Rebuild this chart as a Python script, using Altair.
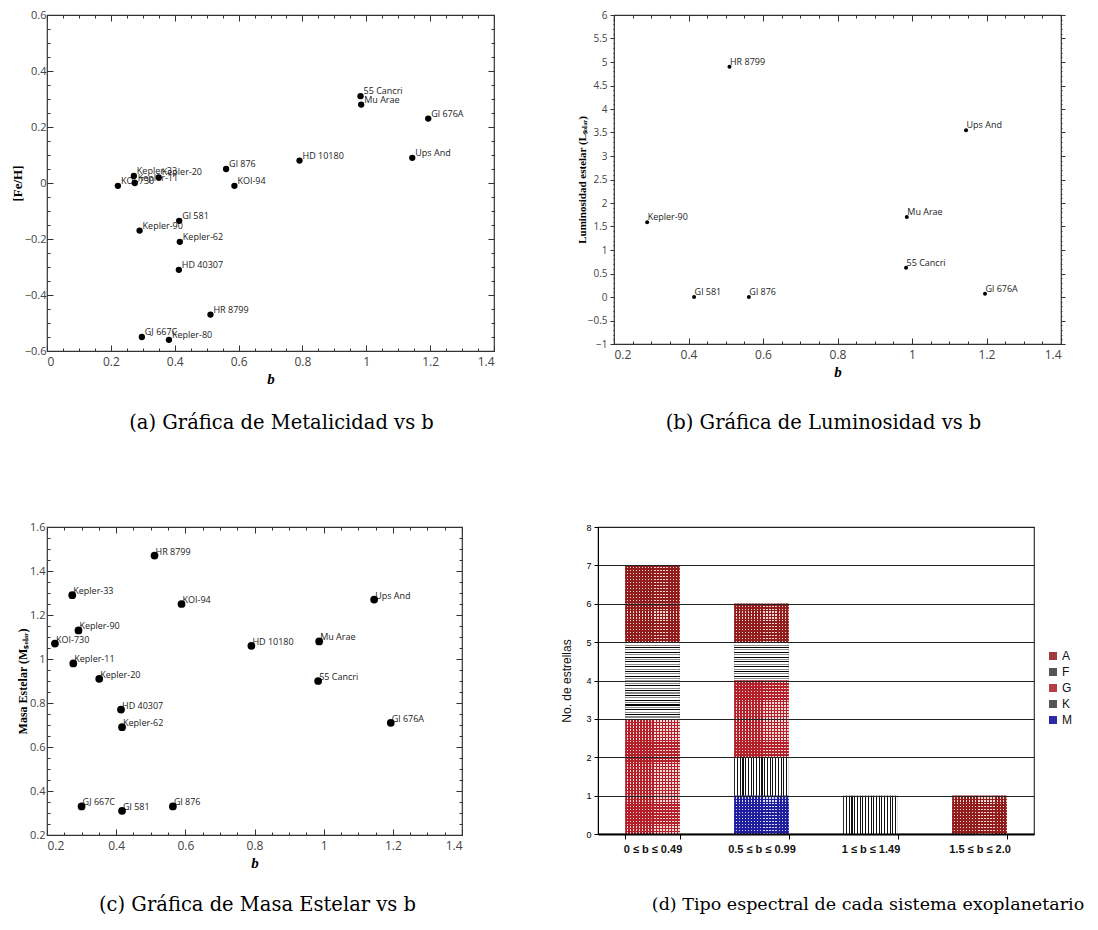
import altair as alt
import pandas as pd

# ---------------- data ----------------
# (a) Metalicidad vs b
met_names = ["KOI-730", "Kepler-33", "Kepler-11", "Kepler-20", "Gl 876", "KOI-94",
             "HD 10180", "Ups And", "55 Cancri", "Mu Arae", "Gl 676A", "Gl 581",
             "Kepler-90", "Kepler-62", "HD 40307", "HR 8799", "GJ 667C", "Kepler-80"]
met_b = [0.222, 0.272, 0.275, 0.350, 0.561, 0.587, 0.791, 1.144, 0.982, 0.984,
         1.194, 0.414, 0.290, 0.416, 0.413, 0.512, 0.297, 0.382]
met_feh = [-0.01, 0.025, 0.0, 0.02, 0.05, -0.01, 0.08, 0.09, 0.31, 0.28,
           0.23, -0.135, -0.17, -0.21, -0.31, -0.47, -0.55, -0.56]

# (b) Luminosidad vs b
lum_names = ["HR 8799", "Ups And", "Kepler-90", "Mu Arae", "55 Cancri", "Gl 581", "Gl 876", "Gl 676A"]
lum_b = [0.510, 1.145, 0.289, 0.986, 0.984, 0.415, 0.562, 1.196]
lum_l = [4.90, 3.55, 1.59, 1.70, 0.62, 0.0, 0.0, 0.07]

# (c) Masa estelar vs b
mass_names = ["HR 8799", "Kepler-33", "KOI-94", "Ups And", "Kepler-90", "KOI-730", "HD 10180",
              "Mu Arae", "Kepler-11", "Kepler-20", "55 Cancri", "HD 40307", "Kepler-62",
              "Gl 676A", "GJ 667C", "Gl 581", "Gl 876"]
mass_b = [0.511, 0.273, 0.589, 1.146, 0.291, 0.223, 0.791, 0.987, 0.276, 0.351, 0.984,
          0.414, 0.417, 1.194, 0.300, 0.417, 0.564]
mass_m = [1.47, 1.29, 1.25, 1.27, 1.13, 1.07, 1.06, 1.08, 0.98, 0.91, 0.90,
          0.77, 0.69, 0.71, 0.33, 0.31, 0.33]

# (d) Tipo espectral
bins = ["0 ≤ b ≤ 0.49", "0.5 ≤ b ≤ 0.99", "1 ≤ b ≤ 1.49", "1.5 ≤ b ≤ 2.0"]
types = ["A", "F", "G", "K", "M"]
count_A = [2, 1, 0, 1]
count_F = [2, 1, 0, 0]
count_G = [3, 2, 0, 0]
count_K = [0, 1, 1, 0]
count_M = [0, 1, 0, 0]
stack_order = {"M": 0, "K": 1, "G": 2, "F": 3, "A": 4}

# ---------------- styles ----------------
TICK_FONT = "Open Sans"
SERIF = "Liberation Serif"
CAP_FONT = "DejaVu Serif"
FRAME = "#333333"


def caption(text, dx=0, offset=20, size=19.5):
    return alt.TitleParams(text=text, orient="bottom", anchor="middle", font=CAP_FONT,
                           fontSize=size, fontWeight="normal", color="black", offset=offset,
                           dx=dx, frame="group")


def scatter(df, xdom, ydom, xmaj, xmin, ymaj, ymin, ytitle, ytitle_size, psize,
            dx, dy, xlab, ylab, y_out, lpad, tpad, cap, w, h):
    xs = alt.Scale(domain=xdom, nice=False, zero=False)
    ys = alt.Scale(domain=ydom, nice=False, zero=False)
    base = alt.Chart(df)
    pts = base.mark_circle(size=psize, color="black", opacity=1).encode(
        x=alt.X("b:Q", scale=xs, axis=alt.Axis(
            orient="bottom", values=xmaj, format="~g", labelFont=TICK_FONT, labelFontSize=xlab,
            labelColor="#444", labelPadding=5, ticks=False, domain=False, grid=False,
            title="b", titleFont=SERIF, titleFontStyle="italic", titleFontWeight="bold",
            titleFontSize=15, titleColor="black", titlePadding=4)),
        y=alt.Y("v:Q", scale=ys, axis=alt.Axis(
            orient="left", values=ymaj, format="~g", labelFont=TICK_FONT, labelFontSize=ylab,
            labelColor="#444", labelPadding=lpad, ticks=False, domain=False,
            grid=False, title=ytitle, titleFont=SERIF, titleFontWeight="bold",
            titleFontSize=ytitle_size, titleColor="black", titlePadding=tpad)),
    )
    txt = base.mark_text(align="left", baseline="middle", dx=dx, dy=dy, font=TICK_FONT,
                         fontSize=9, color="#222").encode(
        x=alt.X("b:Q", scale=xs, axis=None),
        y=alt.Y("v:Q", scale=ys, axis=None),
        text="name:N",
    )
    ticks = []
    for xo, yo, xv, yv, ts in [("bottom", "left", xmaj, ymaj, 6), ("top", "right", xmaj, ymaj, 6),
                               ("bottom", "left", xmin, ymin, 3), ("top", "right", xmin, ymin, 3)]:
        yoff = 0 if y_out else -ts
        ticks.append(base.mark_point(opacity=0, size=1).encode(
            x=alt.X("b:Q", scale=xs, axis=alt.Axis(
                orient=xo, values=xv, labels=False, title=None, domain=False, grid=False,
                ticks=True, tickSize=ts, offset=-ts, tickColor=FRAME, tickWidth=1)),
            y=alt.Y("v:Q", scale=ys, axis=alt.Axis(
                orient=yo, values=yv, labels=False, title=None, domain=False, grid=False,
                ticks=True, tickSize=ts if not y_out else ts - 2, offset=yoff,
                tickColor=FRAME, tickWidth=1)),
        ))
    layers = ticks + [txt, pts]
    return alt.layer(*layers).resolve_axis(x="independent", y="independent").properties(
        width=w, height=h, title=cap)


def rng(a, b, step):
    n = int(round((b - a) / step))
    return [round(a + i * step, 4) for i in range(n + 1)]


df_a = pd.DataFrame({"name": met_names, "b": met_b, "v": met_feh})
df_b = pd.DataFrame({"name": lum_names, "b": lum_b, "v": lum_l})
df_c = pd.DataFrame({"name": mass_names, "b": mass_b, "v": mass_m})

panel_a = scatter(df_a, [0, 1.4], [-0.6, 0.6], rng(0, 1.4, 0.2), rng(0, 1.4, 0.05),
                  rng(-0.6, 0.6, 0.2), rng(-0.6, 0.6, 0.05), "[Fe/H]", 13, 40,
                  3, -5, 12, 11, False, 1, 0,
                  caption("(a) Gráfica de Metalicidad vs b", dx=11, offset=28), 447, 336)

panel_b = scatter(df_b, [0.2, 1.4], [-1, 6], rng(0.2, 1.4, 0.2), rng(0.2, 1.4, 0.05),
                  rng(-1, 6, 0.5), rng(-1, 6, 0.1), "Luminosidad estelar (Lₛₒₗₐᵣ)", 11, 16,
                  0.5, -5, 12, 10, True, 7, 0,
                  caption("(b) Gráfica de Luminosidad vs b", dx=-14, offset=35), 447, 329)

panel_c = scatter(df_c, [0.2, 1.4], [0.2, 1.6], rng(0.2, 1.4, 0.2), rng(0.2, 1.4, 0.05),
                  rng(0.2, 1.6, 0.2), rng(0.2, 1.6, 0.05), "Masa Estelar (Mₛₒₗₐᵣ)", 12, 60,
                  1, -4, 12, 11, False, 2, 0,
                  caption("(c) Gráfica de Masa Estelar vs b", dx=3, offset=26), 415, 308)

# ---------------- panel d ----------------
rows = []
for t, counts in zip(types, [count_A, count_F, count_G, count_K, count_M]):
    for bname, c in zip(bins, counts):
        for _ in range(c):
            rows.append({"bin": bname, "tipo": t, "one": 1, "ord": stack_order[t]})
df_d = pd.DataFrame(rows)


def stripes(colors, gap, n, duty, horizontal_lines):
    stops = []
    for i in range(n):
        col = colors[i % len(colors)]
        a = i / n
        m = (i + duty) / n
        e = (i + 1) / n
        stops += [{"offset": a, "color": col}, {"offset": m, "color": col},
                  {"offset": m, "color": gap}, {"offset": e, "color": gap}]
    if horizontal_lines:
        return {"gradient": "linear", "x1": 0, "y1": 0, "x2": 0, "y2": 1, "stops": stops}
    return {"gradient": "linear", "x1": 0, "y1": 0, "x2": 1, "y2": 0, "stops": stops}


CLEAR = "rgba(255,255,255,0)"
patterns = [
    ("F", stripes(["#000000", "#8a8a8a"], "#ffffff", 16, 0.45, True)),
    ("K", stripes(["#111111"], "#ffffff", 20, 0.4, False)),
    ("G", stripes(["#b3202a"], "#f6dada", 13, 0.45, True)),
    ("G", stripes(["#b3202a"], CLEAR, 18, 0.45, False)),
    ("A", stripes(["#901c1c"], "#f3d6d6", 13, 0.62, True)),
    ("A", stripes(["#901c1c"], CLEAR, 18, 0.62, False)),
    ("M", stripes(["#1e1e9e"], "#dcdcf4", 13, 0.62, True)),
    ("M", stripes(["#1e1e9e"], CLEAR, 18, 0.62, False)),
]

band = alt.Scale(paddingInner=0.5, paddingOuter=0.25)
yscale_d = alt.Scale(domain=[0, 8], nice=False, zero=True)

xd_axis = alt.Axis(
    orient="bottom", title=None, labelAngle=0, tickBand="extent", ticks=True, tickSize=5,
    tickColor="black", domainColor="black", domainWidth=2, labelFont="Liberation Sans",
    labelFontWeight="bold", labelFontSize=11, labelColor="#111", labelPadding=4, zindex=1)
yd_axis = alt.Axis(
    values=list(range(9)), grid=True, gridColor="#222", gridWidth=1, zindex=1,
    domainColor="black", tickColor="black", tickSize=4, labelFont="Liberation Sans",
    labelFontSize=9, labelColor="black", labelPadding=3, title="No. de estrellas",
    titleFont="Liberation Sans", titleFontSize=12, titleFontWeight="normal",
    titleColor="#111", titlePadding=12)

base_d = alt.Chart(df_d).transform_stack(
    stack="one", groupby=["bin"], as_=["y0", "y1"],
    sort=[alt.SortField(field="ord", order="ascending")])

bars = base_d.mark_bar(strokeWidth=0).encode(
    x=alt.X("bin:N", sort=bins, scale=band, axis=xd_axis),
    y=alt.Y("y0:Q", scale=yscale_d, axis=yd_axis),
    y2="y1:Q",
    color=alt.Color("tipo:N", scale=alt.Scale(
        domain=types, range=["#a33a3a", "#555555", "#b83c44", "#555555", "#2a2aa8"]),
        legend=alt.Legend(title=None, orient="none", legendX=1000, legendY=635,
                          symbolType="square", symbolSize=64, symbolStrokeWidth=0,
                          labelFont="Liberation Sans", labelFontSize=12, labelColor="#111",
                          rowPadding=4, labelOffset=3)),
)

pat_layers = []
for t, grad in patterns:
    pat_layers.append(base_d.transform_filter(alt.datum.tipo == t).mark_bar(
        fill=grad, strokeWidth=0).encode(
        x=alt.X("bin:N", sort=bins, scale=band, axis=xd_axis),
        y=alt.Y("y0:Q", scale=yscale_d, axis=yd_axis),
        y2="y1:Q",
    ))

panel_d = alt.layer(bars, *pat_layers).properties(
    width=436, height=307,
    title=caption("(d) Tipo espectral de cada sistema exoplanetario", dx=52, offset=42,
                  size=17.5))

row1 = alt.hconcat(panel_a, panel_b, spacing=79, center=False)
row2 = alt.hconcat(panel_c, panel_d, spacing=96, center=False)
chart = alt.vconcat(row1, row2, spacing=86, center=False).properties(
    padding={"left": 2, "right": 2, "top": 0, "bottom": 0},
).configure_view(stroke=FRAME, strokeWidth=1.2)

chart.save("out.html", embed_options={"renderer": "svg", "actions": False})
